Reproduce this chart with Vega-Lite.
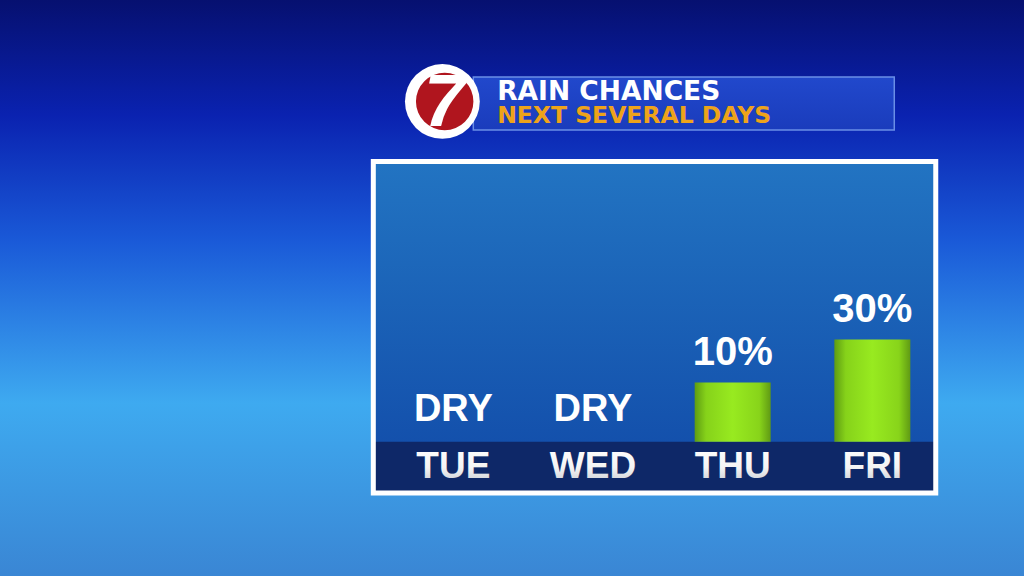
{
  "$schema": "https://vega.github.io/schema/vega-lite/v6.json",
  "width": 1024,
  "height": 576,
  "autosize": {"type": "none"},
  "padding": 0,
  "background": "#1f5fd0",
  "config": {"view": {"stroke": null}, "axis": {"disable": true}},
  "data": {
    "values": [
      {"day": "TUE", "idx": 1, "chance": 0, "label": "DRY"},
      {"day": "WED", "idx": 2, "chance": 0, "label": "DRY"},
      {"day": "THU", "idx": 3, "chance": 10, "label": "10%"},
      {"day": "FRI", "idx": 4, "chance": 30, "label": "30%"}
    ]
  },
  "layer": [
    {
      "data": {"values": [{}]},
      "mark": {
        "type": "rect",
        "color": {
          "gradient": "linear", "x1": 0, "y1": 0, "x2": 0, "y2": 1,
          "stops": [
            {"offset": 0, "color": "#061070"},
            {"offset": 0.2, "color": "#0a22b0"},
            {"offset": 0.42, "color": "#1a5ad8"},
            {"offset": 0.7, "color": "#3eaaf0"},
            {"offset": 1, "color": "#3a86d4"}
          ]
        }
      },
      "encoding": {}
    },
    {
      "data": {"values": [{}]},
      "mark": {
        "type": "rect",
        "stroke": "#6a8ee6",
        "strokeWidth": 1.5,
        "color": {
          "gradient": "linear", "x1": 0, "y1": 0, "x2": 0, "y2": 1,
          "stops": [
            {"offset": 0, "color": "#2148cc"},
            {"offset": 1, "color": "#1a3cbc"}
          ]
        }
      },
      "encoding": {
        "x": {"datum": 1.143, "type": "quantitative", "scale": {"domain": [-2.21, 5.05], "nice": false, "zero": false}},
        "x2": {"datum": 4.157},
        "y": {"datum": 152.2, "type": "quantitative", "scale": {"domain": [-80, 188], "nice": false, "zero": false}},
        "y2": {"datum": 127.5}
      }
    },
    {
      "data": {"values": [{}]},
      "mark": {"type": "point", "shape": "circle", "filled": true, "color": "#ffffff", "opacity": 1, "size": 5600},
      "encoding": {
        "x": {"datum": 0.9215, "type": "quantitative", "scale": {"domain": [-2.21, 5.05], "nice": false, "zero": false}},
        "y": {"datum": 140.8, "type": "quantitative", "scale": {"domain": [-80, 188], "nice": false, "zero": false}}
      }
    },
    {
      "data": {"values": [{}]},
      "mark": {"type": "point", "shape": "circle", "filled": true, "color": "#b0151e", "opacity": 1, "size": 3300},
      "encoding": {
        "x": {"datum": 0.938, "type": "quantitative", "scale": {"domain": [-2.21, 5.05], "nice": false, "zero": false}},
        "y": {"datum": 140.8, "type": "quantitative", "scale": {"domain": [-80, 188], "nice": false, "zero": false}}
      }
    },
    {
      "data": {"values": [{}]},
      "mark": {"type": "text", "text": "7", "font": "Liberation Sans", "fontSize": 74, "fontWeight": "bold", "fontStyle": "italic", "color": "#ffffff", "align": "center", "baseline": "middle", "dy": 3},
      "encoding": {
        "x": {"datum": 0.938, "type": "quantitative", "scale": {"domain": [-2.21, 5.05], "nice": false, "zero": false}},
        "y": {"datum": 140.8, "type": "quantitative", "scale": {"domain": [-80, 188], "nice": false, "zero": false}}
      }
    },
    {
      "data": {"values": [{}]},
      "mark": {"type": "text", "text": "RAIN CHANCES", "font": "DejaVu Sans", "fontSize": 26.5, "fontWeight": "bold", "color": "#ffffff", "align": "left", "baseline": "alphabetic"},
      "encoding": {
        "x": {"datum": 1.3136, "type": "quantitative", "scale": {"domain": [-2.21, 5.05], "nice": false, "zero": false}},
        "y": {"datum": 141.4, "type": "quantitative", "scale": {"domain": [-80, 188], "nice": false, "zero": false}}
      }
    },
    {
      "data": {"values": [{}]},
      "mark": {"type": "text", "text": "NEXT SEVERAL DAYS", "font": "DejaVu Sans", "fontSize": 23.5, "fontWeight": "bold", "color": "#eea31a", "align": "left", "baseline": "alphabetic"},
      "encoding": {
        "x": {"datum": 1.3136, "type": "quantitative", "scale": {"domain": [-2.21, 5.05], "nice": false, "zero": false}},
        "y": {"datum": 130.6, "type": "quantitative", "scale": {"domain": [-80, 188], "nice": false, "zero": false}}
      }
    },
    {
      "data": {"values": [{}]},
      "mark": {
        "type": "rect",
        "color": {
          "gradient": "linear", "x1": 0, "y1": 0, "x2": 0, "y2": 1,
          "stops": [
            {"offset": 0, "color": "#2274c2"},
            {"offset": 1, "color": "#114aa8"}
          ]
        }
      },
      "encoding": {
        "x": {"datum": 0.427, "type": "quantitative", "scale": {"domain": [-2.21, 5.05], "nice": false, "zero": false}},
        "x2": {"datum": 4.454},
        "y": {"datum": 112.85, "type": "quantitative", "scale": {"domain": [-80, 188], "nice": false, "zero": false}},
        "y2": {"datum": -41.4}
      }
    },
    {
      "data": {"values": [{}]},
      "mark": {"type": "rect", "color": "#0e2868"},
      "encoding": {
        "x": {"datum": 0.427, "type": "quantitative", "scale": {"domain": [-2.21, 5.05], "nice": false, "zero": false}},
        "x2": {"datum": 4.454},
        "y": {"datum": -17.5, "type": "quantitative", "scale": {"domain": [-80, 188], "nice": false, "zero": false}},
        "y2": {"datum": -41.4}
      }
    },
    {
      "transform": [{"filter": "datum.chance > 0"}],
      "mark": {
        "type": "bar",
        "width": 76,
        "color": {
          "gradient": "linear", "x1": 0, "y1": 0, "x2": 1, "y2": 0,
          "stops": [
            {"offset": 0, "color": "#5e9c12"},
            {"offset": 0.15, "color": "#86d21a"},
            {"offset": 0.5, "color": "#98ea20"},
            {"offset": 0.85, "color": "#88d41a"},
            {"offset": 1, "color": "#609a14"}
          ]
        }
      },
      "encoding": {
        "x": {"field": "idx", "type": "quantitative", "scale": {"domain": [-2.21, 5.05], "nice": false, "zero": false}},
        "y": {"field": "chance", "type": "quantitative", "scale": {"domain": [-80, 188], "nice": false, "zero": false}},
        "y2": {"datum": -17.5}
      }
    },
    {
      "transform": [{"filter": "datum.chance > 0"}],
      "mark": {"type": "text", "font": "Liberation Sans", "fontSize": 40, "fontWeight": "bold", "color": "#ffffff", "align": "center", "baseline": "bottom", "dy": -10},
      "encoding": {
        "x": {"field": "idx", "type": "quantitative", "scale": {"domain": [-2.21, 5.05], "nice": false, "zero": false}},
        "y": {"field": "chance", "type": "quantitative", "scale": {"domain": [-80, 188], "nice": false, "zero": false}},
        "text": {"field": "label"}
      }
    },
    {
      "transform": [{"filter": "datum.chance == 0"}],
      "mark": {"type": "text", "font": "Liberation Sans", "fontSize": 38, "fontWeight": "bold", "color": "#ffffff", "align": "center", "baseline": "bottom", "dy": -13},
      "encoding": {
        "x": {"field": "idx", "type": "quantitative", "scale": {"domain": [-2.21, 5.05], "nice": false, "zero": false}},
        "y": {"datum": -17.5, "type": "quantitative", "scale": {"domain": [-80, 188], "nice": false, "zero": false}},
        "text": {"field": "label"}
      }
    },
    {
      "mark": {
        "type": "text", "font": "Liberation Sans", "fontSize": 37, "fontWeight": "bold", "align": "center", "baseline": "middle",
        "color": {
          "gradient": "linear", "x1": 0, "y1": 0, "x2": 0, "y2": 1,
          "stops": [
            {"offset": 0, "color": "#ffffff"},
            {"offset": 0.55, "color": "#f4f4f4"},
            {"offset": 1, "color": "#c4c8d0"}
          ]
        }
      },
      "encoding": {
        "x": {"field": "idx", "type": "quantitative", "scale": {"domain": [-2.21, 5.05], "nice": false, "zero": false}},
        "y": {"datum": -29.3, "type": "quantitative", "scale": {"domain": [-80, 188], "nice": false, "zero": false}},
        "text": {"field": "day"}
      }
    },
    {
      "data": {"values": [{}]},
      "mark": {"type": "rect", "fill": null, "fillOpacity": 0, "stroke": "#ffffff", "strokeWidth": 5},
      "encoding": {
        "x": {"datum": 0.427, "type": "quantitative", "scale": {"domain": [-2.21, 5.05], "nice": false, "zero": false}},
        "x2": {"datum": 4.454},
        "y": {"datum": 112.85, "type": "quantitative", "scale": {"domain": [-80, 188], "nice": false, "zero": false}},
        "y2": {"datum": -41.4}
      }
    }
  ]
}
